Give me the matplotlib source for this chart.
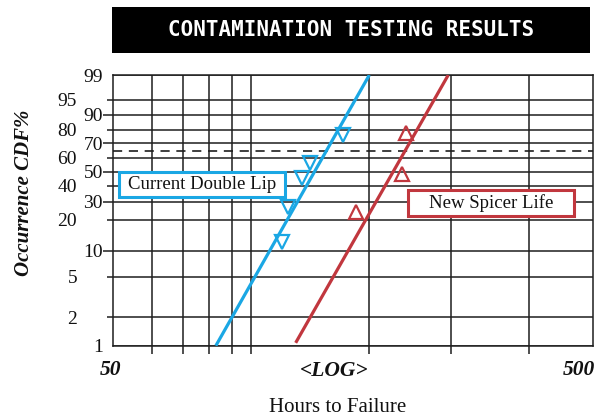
import numpy as np
import matplotlib
matplotlib.use('Agg')
import matplotlib.pyplot as plt
from matplotlib.patches import Rectangle
from matplotlib.ticker import NullLocator

# ---- probability-paper scale (CDF % -> paper height, px above the 1 % line) ----
cdf_knots = [1, 2, 5, 10, 20, 30, 40, 50, 60, 70, 80, 90, 95, 99]
paper_pos = [0, 28.7, 69, 95.2, 126.2, 143.7, 159.7, 173.7, 188, 202.4, 216.2, 231.2, 246.2, 270.7]

# ---- data ----
current_hours = [112.3, 115.9, 123.6, 128.7, 150.9]
current_cdf = [12.8, 27.1, 45.9, 56.3, 76.0]
current_fit_hours = [81.9, 171.0]
current_fit_cdf = [1.0, 99.0]

spicer_hours = [160.6, 199.7, 203.4]
spicer_cdf = [24.3, 48.8, 77.8]
spicer_fit_hours = [120.1, 249.7]
spicer_fit_cdf = [1.1, 99.0]

char_life_cdf = 64.5

x_grid = [60.4, 70.0, 79.4, 88.4, 96.9, 170.7, 253.1, 367.8]
y_near = [1, 10, 30, 50, 70, 90, 99]
y_far = [2, 5, 20, 40, 60, 80, 95]

title = 'CONTAMINATION TESTING RESULTS'
label_current = 'Current Double Lip'
label_spicer = 'New Spicer Life'

BLUE = '#1AA7E4'
RED = '#C1373E'
GRID = '#1e1e1e'
SERIF = 'Liberation Serif'

W, H = 603, 420
L, R, T, B = 113, 593, 75, 345.7


def fx(px):
    return px / W


def fy(py):
    return 1 - py / H


fig = plt.figure(figsize=(W / 100, H / 100), dpi=100)
ax = fig.add_axes([fx(L), fy(B), (R - L) / W, (B - T) / H])


def fwd(p):
    return np.interp(p, cdf_knots, paper_pos)


def inv(y):
    return np.interp(y, paper_pos, cdf_knots)


ax.set_xscale('log')
ax.set_yscale('function', functions=(fwd, inv))
ax.set_xlim(50, 500)
ax.set_ylim(1, 99)

# x grid / ticks
ax.set_xticks(x_grid)
ax.xaxis.set_minor_locator(NullLocator())
ax.tick_params(axis='x', which='major', direction='out', length=6, width=1.1,
               color=GRID, labelbottom=False)

# y ticks: two label columns
ax.set_yticks(y_near, labels=[str(v) for v in y_near])
ax.set_yticks(y_far, labels=[str(v) for v in y_far], minor=True)
ax.tick_params(axis='y', which='major', direction='out', length=7.2, width=1.1,
               color=GRID, pad=0, labelsize=14)
ax.tick_params(axis='y', which='minor', direction='out', length=4.3, width=1.1,
               color=GRID, pad=21.6, labelsize=14)
for t in ax.yaxis.get_major_ticks():
    if t.get_loc() in (1, 99):
        t.tick1line.set_visible(False)
for lab in ax.get_yticklabels(which='both'):
    lab.set_fontfamily(SERIF)
    lab.set_color('#111')

ax.grid(True, axis='x', which='major', color=GRID, lw=1.1)
ax.grid(True, axis='y', which='both', color=GRID, lw=1.1)
ax.set_axisbelow(True)

for s in ax.spines.values():
    s.set_color(GRID)
    s.set_linewidth(1.1)

# characteristic-life dashed line
ax.axhline(char_life_cdf, color=GRID, lw=1.2, dashes=(5.5, 4), zorder=1.6)

# fit lines
ax.plot(current_fit_hours, current_fit_cdf, color=BLUE, lw=2.3, zorder=3,
        solid_capstyle='butt')
ax.plot(spicer_fit_hours, spicer_fit_cdf, color=RED, lw=2.3, zorder=3,
        solid_capstyle='butt')

# data markers
ax.plot(current_hours, current_cdf, ls='none', marker='v', ms=10.5,
        mfc='none', mec=BLUE, mew=1.6, zorder=4)
ax.plot(spicer_hours, spicer_cdf, ls='none', marker='^', ms=10.5,
        mfc='none', mec=RED, mew=1.6, zorder=4)

# label boxes
ax.add_patch(Rectangle((0.0131, 0.5504), 0.3452, 0.0902, transform=ax.transAxes,
                       facecolor='white', edgecolor=BLUE, lw=2.2, zorder=5))
ax.text(0.1857, 0.5955, label_current, transform=ax.transAxes, ha='center',
        va='center', fontsize=13.5, family=SERIF, color='#111', zorder=6)
ax.add_patch(Rectangle((0.6152, 0.4802), 0.3452, 0.095, transform=ax.transAxes,
                       facecolor='white', edgecolor=RED, lw=2.2, zorder=5))
ax.text(0.7878, 0.5277, label_spicer, transform=ax.transAxes, ha='center',
        va='center', fontsize=13.5, family=SERIF, color='#111', zorder=6)

# x labels
fig.text(fx(111), fy(370), '50', ha='center', va='center', fontsize=15.5,
         family=SERIF, weight='bold', style='italic', color='#111')
fig.text(fx(334.7), fy(371.5), '<LOG>', ha='center', va='center', fontsize=15.5,
         family=SERIF, weight='bold', style='italic', color='#111')
fig.text(fx(595), fy(370), '500', ha='right', va='center', fontsize=15.5,
         family=SERIF, weight='bold', style='italic', color='#111')
fig.text(fx(338), fy(408), 'Hours to Failure', ha='center', va='center',
         fontsize=15, family=SERIF, color='#111')
fig.text(fx(24), fy(193), 'Occurrence CDF%', ha='center', va='center',
         rotation=90, fontsize=15, family=SERIF, weight='bold', style='italic',
         color='#111')

# title bar
fig.patches.append(Rectangle((fx(111.7), fy(53)), (590 - 111.7) / W, 46 / H,
                             transform=fig.transFigure, facecolor='black',
                             edgecolor='none'))
fig.text(fx(351), fy(30), title, ha='center', va='center', fontsize=15,
         family='DejaVu Sans Mono', weight='bold', color='white')

fig.savefig('out.png', dpi=100)
